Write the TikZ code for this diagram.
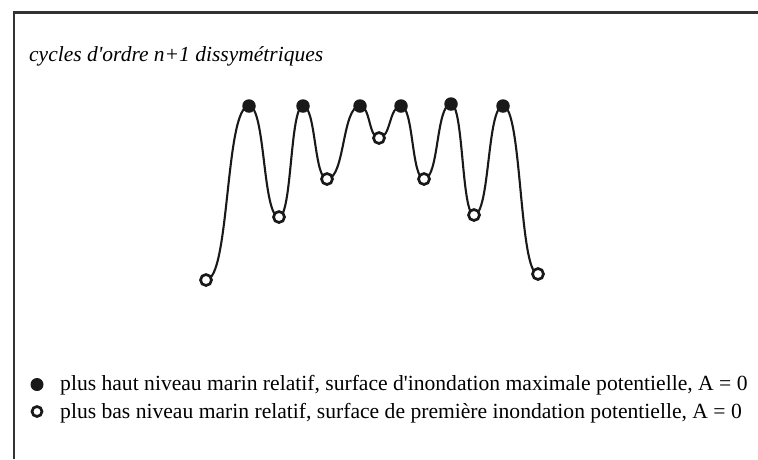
\documentclass[tikz,border=0pt]{standalone}
\usepackage{fontspec}
\setmainfont{Liberation Serif}[Ligatures=TeXOff]
\begin{document}
\begin{tikzpicture}[x=1pt,y=-1pt,
  frameline/.style={line width=2.2pt,draw=black!80},
  curve/.style={line width=2.1pt,black!90},
  hi/.style={circle,fill=black!90,inner sep=0pt,minimum size=13.5pt},
  lo/.style={circle,draw=black!90,fill=white,line width=2.7pt,inner sep=0pt,minimum size=11pt},
  legtext/.style={anchor=base west,inner sep=0pt,font=\fontsize{21.6}{24}\selectfont}]
\useasboundingbox (0,0) rectangle (758,459);
\coordinate (fa) at (14,459);
\coordinate (fb) at (14,12.5);
\coordinate (fc) at (758,12.5);
\draw[frameline] (fa) -- (fb) -- (fc);
\node[anchor=base west,inner sep=0pt,font=\fontsize{21.5}{24}\selectfont\itshape] (title) at (29,61) {cycles d'ordre n+1 dissymétriques};
\coordinate (p0) at (206,280);
\coordinate (p1) at (249,106);
\coordinate (p2) at (279,217);
\coordinate (p3) at (303,106);
\coordinate (p4) at (327,179);
\coordinate (p5) at (360,106);
\coordinate (p6) at (379,138);
\coordinate (p7) at (401,106);
\coordinate (p8) at (424,179);
\coordinate (p9) at (451,104);
\coordinate (p10) at (474,215);
\coordinate (p11) at (503,106);
\coordinate (p12) at (538,274);
\draw[curve] (p0) .. controls +(24,0) and +(-24,0) .. (p1)
  .. controls +(16.5,0) and +(-16.5,0) .. (p2)
  .. controls +(13,0) and +(-13,0) .. (p3)
  .. controls +(13,0) and +(-13,0) .. (p4)
  .. controls +(18,0) and +(-18,0) .. (p5)
  .. controls +(10.5,0) and +(-10.5,0) .. (p6)
  .. controls +(12,0) and +(-12,0) .. (p7)
  .. controls +(12.5,0) and +(-12.5,0) .. (p8)
  .. controls +(15,0) and +(-15,0) .. (p9)
  .. controls +(12.5,0) and +(-12.5,0) .. (p10)
  .. controls +(16,0) and +(-16,0) .. (p11)
  .. controls +(19,0) and +(-19,0) .. (p12);
\foreach \p in {p1,p3,p5,p7,p9,p11} \node[hi] (d\p) at (\p) {};
\foreach \p in {p0,p2,p4,p6,p8,p10,p12} \node[lo] (d\p) at (\p) {};
\node[hi,minimum size=13pt] (lh) at (37,384.5) {};
\node[lo,minimum size=10pt] (ll) at (37,411.5) {};
\node[legtext] (t1) at (60,390.5) {plus haut niveau marin relatif, surface d'inondation maximale potentielle, A = 0};
\node[legtext] (t2) at (60,418) {plus bas niveau marin relatif, surface de première inondation potentielle, A = 0};
\end{tikzpicture}
\end{document}
